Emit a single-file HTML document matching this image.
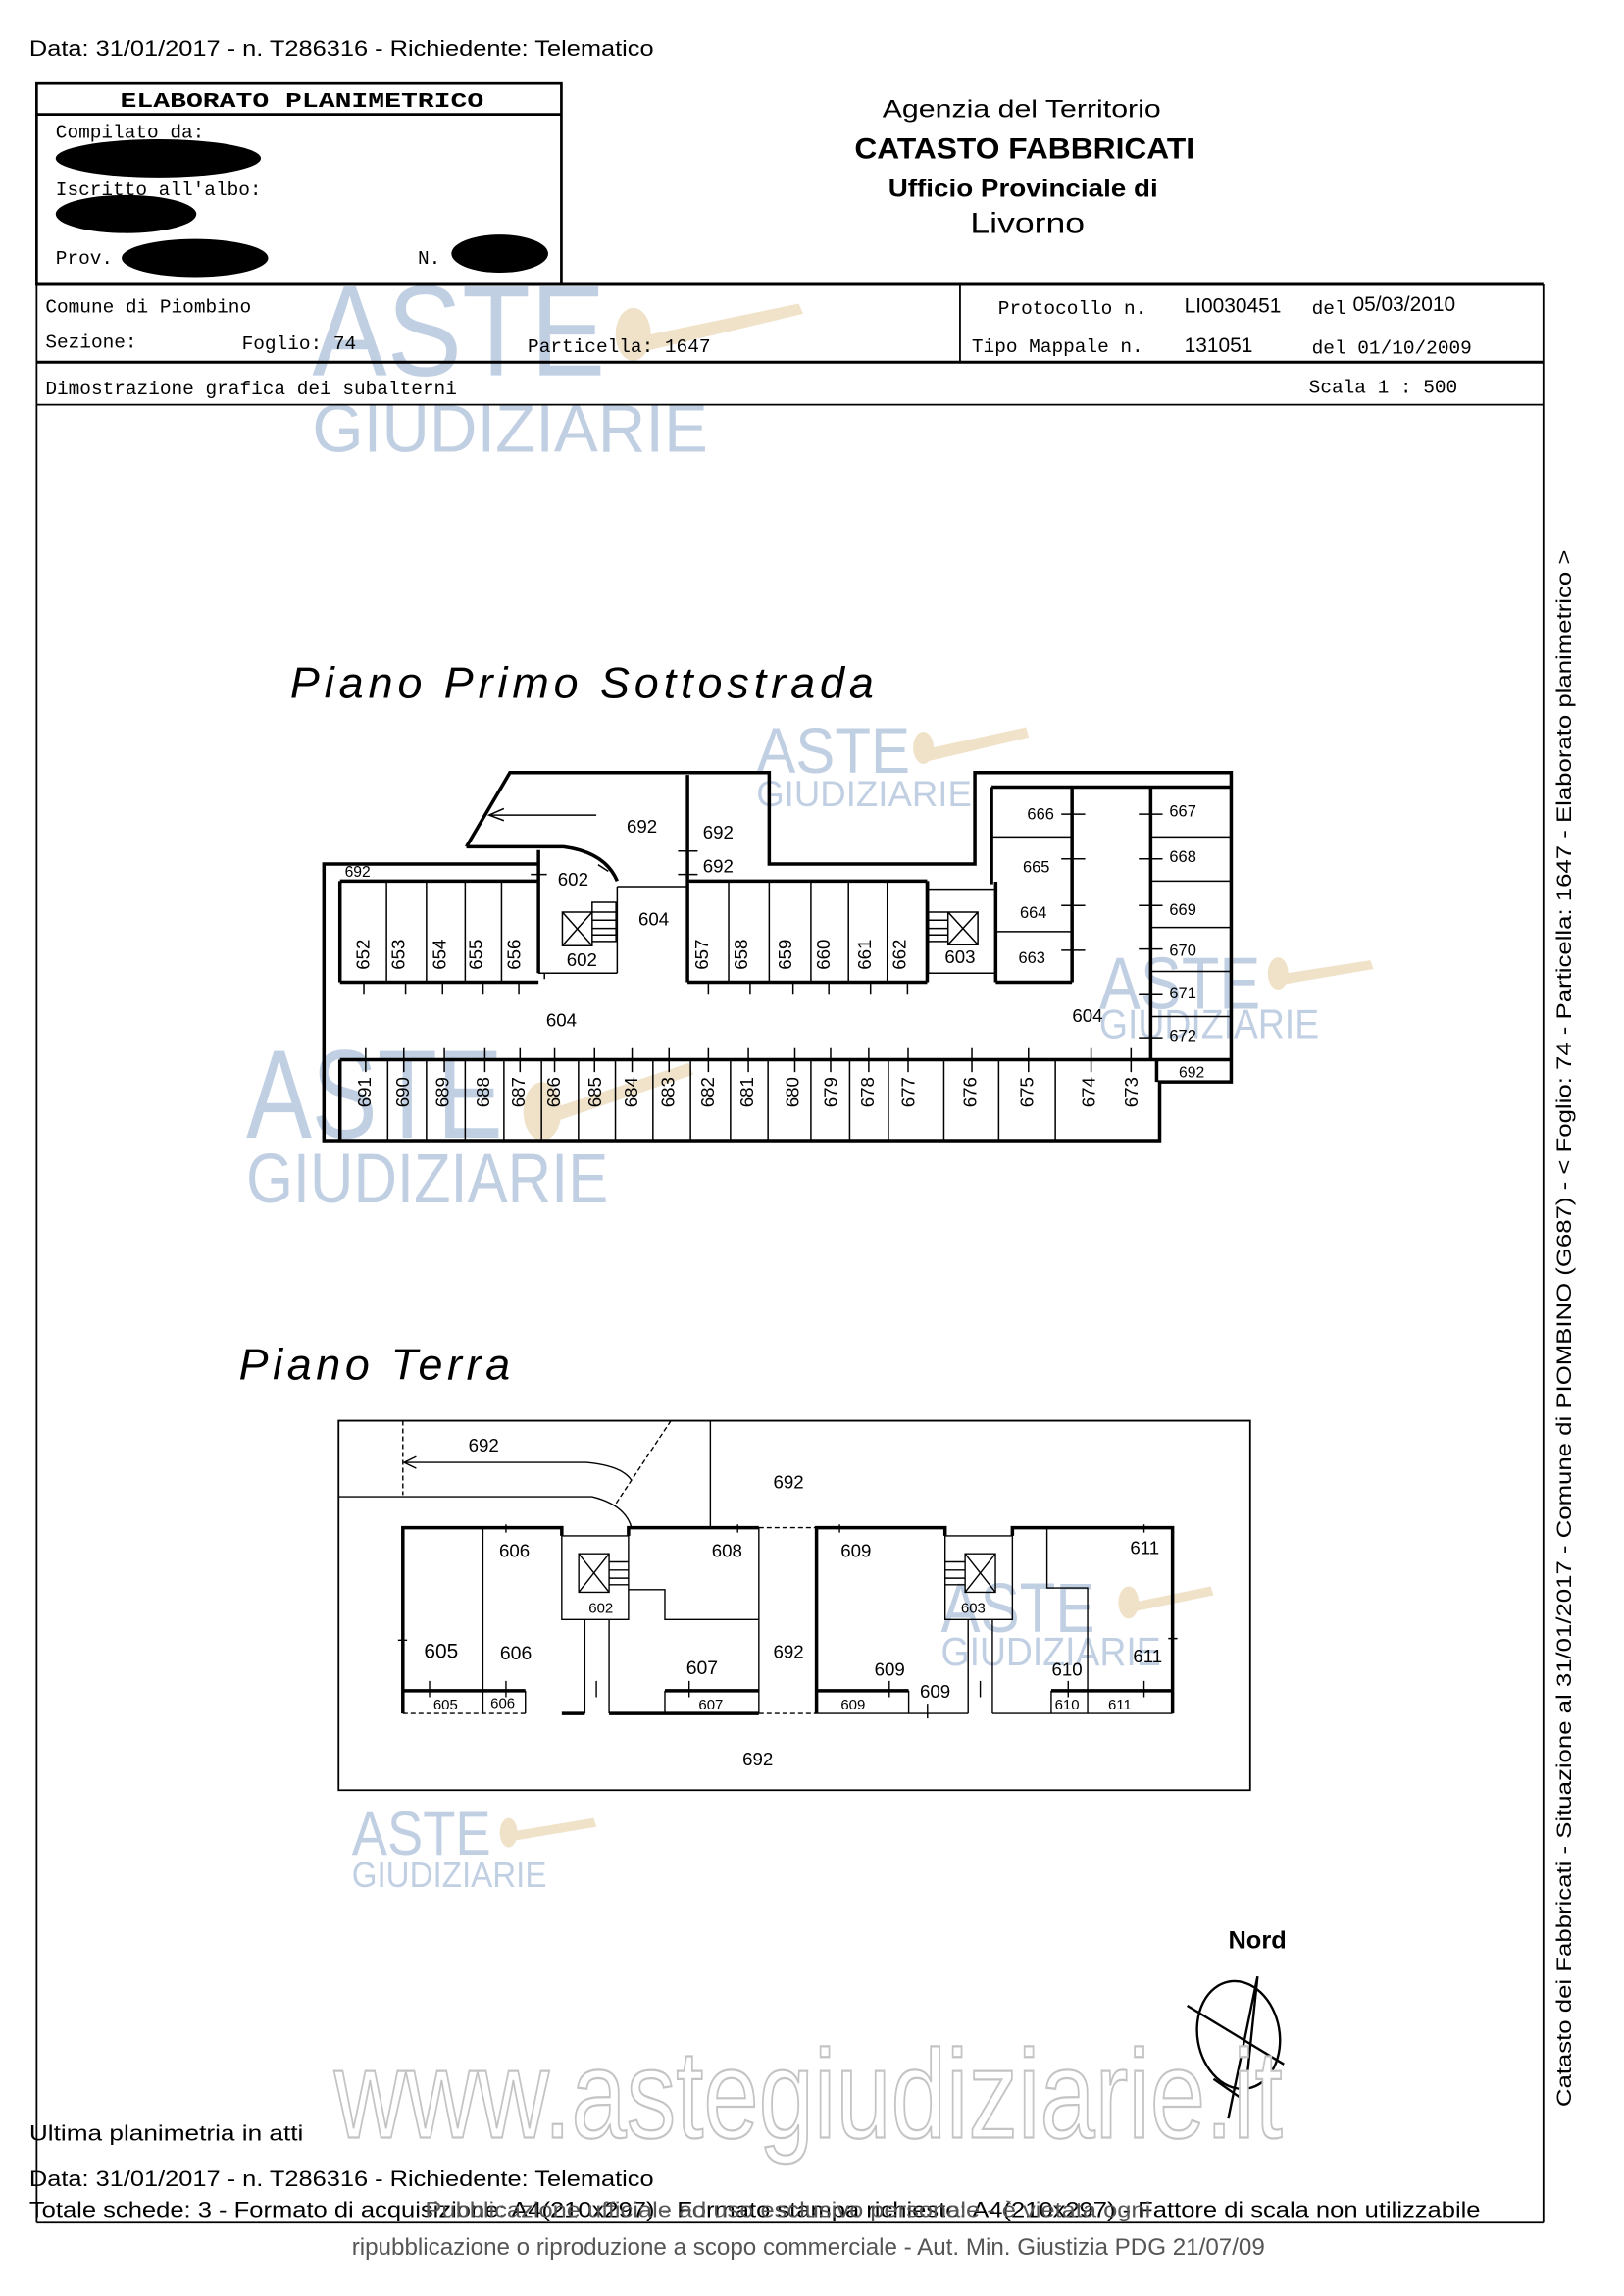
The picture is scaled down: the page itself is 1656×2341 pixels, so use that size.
<!DOCTYPE html>
<html><head><meta charset="utf-8"><style>
html,body{margin:0;padding:0;background:#fff}
svg{display:block}
.m{font-family:"Liberation Mono",monospace}
.s{font-family:"Liberation Sans",sans-serif}
.n{font-family:"Liberation Sans",sans-serif;font-size:12.5px;fill:#000}
.wm{font-family:"Liberation Sans",sans-serif;fill:#a8bcd8;opacity:.7}
</style></head><body>
<svg width="1656" height="2341" viewBox="0 0 1108 1566" preserveAspectRatio="none" xmlns="http://www.w3.org/2000/svg">
<rect width="1120" height="1570" fill="#fff"/>

<g class="wm">
<text x="213" y="256" font-size="88" textLength="200" lengthAdjust="spacingAndGlyphs">ASTE</text>
<text x="213" y="308" font-size="46" textLength="270" lengthAdjust="spacingAndGlyphs">GIUDIZIARIE</text>
<text x="516" y="527" font-size="44" textLength="105" lengthAdjust="spacingAndGlyphs">ASTE</text>
<text x="516" y="550" font-size="25" textLength="147" lengthAdjust="spacingAndGlyphs">GIUDIZIARIE</text>
<text x="168" y="776" font-size="86" textLength="175" lengthAdjust="spacingAndGlyphs">ASTE</text>
<text x="168" y="820" font-size="48" textLength="247" lengthAdjust="spacingAndGlyphs">GIUDIZIARIE</text>
<text x="750" y="688" font-size="50" textLength="110" lengthAdjust="spacingAndGlyphs">ASTE</text>
<text x="750" y="708" font-size="28" textLength="150" lengthAdjust="spacingAndGlyphs">GIUDIZIARIE</text>
<text x="642" y="1113" font-size="48" textLength="105" lengthAdjust="spacingAndGlyphs">ASTE</text>
<text x="642" y="1136" font-size="27" textLength="150" lengthAdjust="spacingAndGlyphs">GIUDIZIARIE</text>
<text x="240" y="1265" font-size="42" textLength="95" lengthAdjust="spacingAndGlyphs">ASTE</text>
<text x="240" y="1287" font-size="24" textLength="133" lengthAdjust="spacingAndGlyphs">GIUDIZIARIE</text>
</g>
<g fill="#ecd9b8" opacity=".75">
<polygon points="425,232 545,207 548,214 430,242"/><ellipse cx="432" cy="228" rx="12" ry="18"/>
<polygon points="627,512 700,496 702,503 630,520"/><ellipse cx="630" cy="510" rx="7" ry="11"/>
<polygon points="365,760 470,725 473,733 370,768"/><ellipse cx="370" cy="758" rx="13" ry="20"/>
<polygon points="870,665 935,655 937,661 872,672"/><ellipse cx="872" cy="664" rx="7" ry="11"/>
<polygon points="768,1094 826,1082 828,1088 770,1100"/><ellipse cx="770" cy="1093" rx="7" ry="11"/>
<polygon points="345,1250 405,1240 407,1246 347,1256"/><ellipse cx="347" cy="1250" rx="6" ry="10"/>
</g>

<text x="20" y="38" class="s" font-size="15" textLength="426" lengthAdjust="spacingAndGlyphs">Data: 31/01/2017 - n. T286316 - Richiedente: Telematico</text>
<g fill="none" stroke="#000">
<rect x="25" y="57" width="358" height="137" stroke-width="1.8"/>
<line x1="25" y1="78" x2="383" y2="78" stroke-width="1.8"/>
<line x1="25" y1="194" x2="1053" y2="194" stroke-width="2"/>
<line x1="25" y1="247" x2="1053" y2="247" stroke-width="2"/>
<line x1="25" y1="276" x2="1053" y2="276" stroke-width="1.2"/>
<line x1="25" y1="194" x2="25" y2="1516" stroke-width="1.2"/>
<line x1="1053" y1="194" x2="1053" y2="1516" stroke-width="1.2"/>
<line x1="655" y1="194" x2="655" y2="247" stroke-width="1.2"/>
<line x1="25" y1="1516" x2="1053" y2="1516" stroke-width="1.2"/>
</g>
<g class="m" font-size="13">
<text x="82" y="73" font-weight="bold" font-size="14" textLength="248" lengthAdjust="spacingAndGlyphs">ELABORATO PLANIMETRICO</text>
<text x="38" y="94">Compilato da:</text>
<text x="38" y="133">Iscritto all'albo:</text>
<text x="38" y="180">Prov.</text>
<text x="285" y="180">N.</text>
<text x="31" y="213">Comune di Piombino</text>
<text x="31" y="237">Sezione:</text>
<text x="165" y="238">Foglio: 74</text>
<text x="360" y="240">Particella: 1647</text>
<text x="681" y="214">Protocollo n.</text>
<text x="895" y="214">del</text>
<text x="663" y="240">Tipo Mappale n.</text>
<text x="895" y="241">del 01/10/2009</text>
<text x="31" y="269">Dimostrazione grafica dei subalterni</text>
<text x="893" y="268">Scala 1 : 500</text>
</g>
<g class="s" font-size="14">
<text x="808" y="213">LI0030451</text>
<text x="923" y="212">05/03/2010</text>
<text x="808" y="240">131051</text>
</g>
<g fill="#000">
<ellipse cx="108" cy="108" rx="70" ry="13"/>
<ellipse cx="86" cy="146" rx="48" ry="13"/>
<ellipse cx="133" cy="176" rx="50" ry="13"/>
<ellipse cx="341" cy="173" rx="33" ry="13"/>
</g>
<g class="s" text-anchor="middle">
<text x="697" y="80" font-size="17" textLength="190" lengthAdjust="spacingAndGlyphs">Agenzia del Territorio</text>
<text x="699" y="108" font-size="20" font-weight="bold" textLength="232" lengthAdjust="spacingAndGlyphs">CATASTO FABBRICATI</text>
<text x="698" y="134" font-size="17" font-weight="bold" textLength="184" lengthAdjust="spacingAndGlyphs">Ufficio Provinciale di</text>
<text x="701" y="159" font-size="20" textLength="78" lengthAdjust="spacingAndGlyphs">Livorno</text>
</g>

<text x="198" y="476" class="s" font-style="italic" font-size="30" textLength="398" lengthAdjust="spacing">Piano  Primo  Sottostrada</text>
<text x="163" y="941" class="s" font-style="italic" font-size="30" textLength="185" lengthAdjust="spacing">Piano  Terra</text>

<g transform="translate(221,527) scale(0.4067,0.2227) translate(-18,-18)" fill="none" stroke="#000">
<g stroke-width="3.5">
<path vector-effect="non-scaling-stroke" d="M257,245 L330,18 L765,18 L765,298 L1110,298 L1110,18 L1540,18 L1540,965 L1420,965 L1420,1145 L18,1145 L18,298 L378,298"/>
<path vector-effect="non-scaling-stroke" d="M257,245 L420,245 Q490,262 510,350"/>
<path vector-effect="non-scaling-stroke" d="M378,255 L378,632 M628,25 L628,660 M45,350 L378,350 M45,660 L378,660 M45,350 L45,660 M628,350 L1030,350 M628,660 L1030,660 M1030,350 L1030,660 M1138,62 L1540,62 M1138,62 L1138,360 M1273,62 L1273,660 M1145,352 L1145,660 M1145,660 L1273,660 M1405,62 L1405,897 M45,897 L1540,897 M45,897 L45,1145 M1415,897 L1415,965"/>
</g>
<g stroke-width="1.5">
<path vector-effect="non-scaling-stroke" d="M123,350V660 M190,350V660 M255,350V660 M316,350V660 M697,350V660 M765,350V660 M835,350V660 M898,350V660 M963,350V660"/>
<path vector-effect="non-scaling-stroke" d="M125,897V1145 M190,897V1145 M255,897V1145 M320,897V1145 M383,897V1145 M445,897V1145 M507,897V1145 M570,897V1145 M633,897V1145 M700,897V1145 M763,897V1145 M835,897V1145 M900,897V1145 M965,897V1145 M1058,897V1145 M1150,897V1145 M1245,897V1145"/>
<path vector-effect="non-scaling-stroke" d="M1138,215H1273 M1145,505H1273 M1405,215H1540 M1405,350H1540 M1405,492H1540 M1405,627H1540 M1405,765H1540"/>
<path vector-effect="non-scaling-stroke" d="M510,367H628 M510,367V632 M378,632H510 M1032,375H1145 M1032,632H1145 M1032,350V632 M1145,375V640"/>
<path vector-effect="non-scaling-stroke" d="M418,445H468V548H418Z M418,445L468,548 M468,445L418,548 M468,415H508V535H468Z M468,445H508 M468,470H508 M468,495H508 M468,515H508"/>
<path vector-effect="non-scaling-stroke" d="M1065,445H1115V545H1065Z M1065,445L1115,545 M1115,445L1065,545 M1032,445H1065V535H1032Z M1032,470H1065 M1032,495H1065 M1032,515H1065"/>
<path vector-effect="non-scaling-stroke" d="M85,660V695 M155,660V695 M217,660V695 M285,660V695 M345,660V695 M663,660V695 M733,660V695 M805,660V695 M865,660V695 M935,660V695 M997,660V695"/>
<path vector-effect="non-scaling-stroke" d="M88,862V935 M152,862V935 M220,862V935 M288,862V935 M347,862V935 M405,862V935 M472,862V935 M535,862V935 M597,862V935 M663,862V935 M730,862V935 M808,862V935 M868,862V935 M932,862V935 M998,862V935 M1105,862V935 M1200,862V935 M1305,862V935 M1372,862V935"/>
<path vector-effect="non-scaling-stroke" d="M1255,145H1295 M1255,282H1295 M1255,425H1295 M1255,562H1295 M1385,145H1425 M1385,282H1425 M1385,425H1425 M1385,558H1425 M1385,695H1425 M1385,830H1425 M612,258H645 M612,330H645 M365,330H392 M388,632V650"/>
<path vector-effect="non-scaling-stroke" d="M475,148H295 M320,128L295,148L320,165 M478,300L495,320"/>
</g>
</g>
<g class="n" text-anchor="middle">
<text x="438" y="568">692</text><text x="490" y="572">692</text><text x="490" y="595">692</text>
<text x="244" y="598" font-size="10.5">692</text>
<text x="391" y="604">602</text><text x="397" y="659">602</text><text x="446" y="631">604</text>
<text x="655" y="657">603</text>
<text x="383" y="700">604</text><text x="742" y="697">604</text>
<text x="710" y="559" font-size="11">666</text><text x="707" y="595" font-size="11">665</text><text x="705" y="626" font-size="11">664</text><text x="704" y="657" font-size="11">663</text>
<text x="807" y="557" font-size="11">667</text><text x="807" y="588" font-size="11">668</text><text x="807" y="624" font-size="11">669</text><text x="807" y="652" font-size="11">670</text><text x="807" y="681" font-size="11">671</text><text x="807" y="710" font-size="11">672</text>
<text x="813" y="735" font-size="10.5">692</text>
</g>
<g class="n" font-size="11" text-anchor="middle">
<text transform="translate(252,651) rotate(-90)">652</text>
<text transform="translate(276,651) rotate(-90)">653</text>
<text transform="translate(304,651) rotate(-90)">654</text>
<text transform="translate(329,651) rotate(-90)">655</text>
<text transform="translate(355,651) rotate(-90)">656</text>
<text transform="translate(483,651) rotate(-90)">657</text>
<text transform="translate(510,651) rotate(-90)">658</text>
<text transform="translate(540,651) rotate(-90)">659</text>
<text transform="translate(566,651) rotate(-90)">660</text>
<text transform="translate(594,651) rotate(-90)">661</text>
<text transform="translate(618,651) rotate(-90)">662</text>
<text transform="translate(253,745) rotate(-90)">691</text>
<text transform="translate(279,745) rotate(-90)">690</text>
<text transform="translate(306,745) rotate(-90)">689</text>
<text transform="translate(334,745) rotate(-90)">688</text>
<text transform="translate(358,745) rotate(-90)">687</text>
<text transform="translate(382,745) rotate(-90)">686</text>
<text transform="translate(410,745) rotate(-90)">685</text>
<text transform="translate(435,745) rotate(-90)">684</text>
<text transform="translate(460,745) rotate(-90)">683</text>
<text transform="translate(487,745) rotate(-90)">682</text>
<text transform="translate(514,745) rotate(-90)">681</text>
<text transform="translate(545,745) rotate(-90)">680</text>
<text transform="translate(571,745) rotate(-90)">679</text>
<text transform="translate(596,745) rotate(-90)">678</text>
<text transform="translate(624,745) rotate(-90)">677</text>
<text transform="translate(666,745) rotate(-90)">676</text>
<text transform="translate(705,745) rotate(-90)">675</text>
<text transform="translate(747,745) rotate(-90)">674</text>
<text transform="translate(776,745) rotate(-90)">673</text>
</g>

<g transform="translate(231,969) scale(0.4138,0.2224) translate(-22,-22)" fill="none" stroke="#000">
<rect x="22" y="22" width="1503" height="1133" stroke-width="1.8" vector-effect="non-scaling-stroke"/>
<g stroke-width="1.4">
<path vector-effect="non-scaling-stroke" stroke-dasharray="5,3" d="M128,22V250 M570,22L478,280 M715,350H810 M715,920H810 M128,850V920 M128,920H330"/>
<path vector-effect="non-scaling-stroke" d="M22,255H440 Q495,280 505,350 M130,150H430 Q490,160 505,205 M150,132L130,150L150,168 M635,22V350"/>
<path vector-effect="non-scaling-stroke" d="M260,350V920 M390,375H500V632H390Z M418,430H468V548H418Z M418,430L468,548 M468,430L418,548 M468,455H500 M468,480H500 M468,505H500 M468,525H500 M428,632V920 M468,632V920 M500,540H560V632H715 M715,350V920 M330,850V920"/>
<path vector-effect="non-scaling-stroke" d="M1022,375H1133V632H1022Z M1055,430H1105V548H1055Z M1055,430L1105,548 M1105,430L1055,548 M1022,455H1055 M1022,480H1055 M1022,505H1055 M1022,525H1055 M1060,632V920 M1100,632V920 M1190,350V535H1257V850 M1133,350V632 M962,850V920 M1197,850V920 M1257,850V920 M810,920H1060 M1100,920H1397 M560,850V920"/>
<path vector-effect="non-scaling-stroke" d="M298,340V365 M680,340V365 M848,340V365 M1350,340V365 M120,695H135 M1390,690H1405 M172,820V870 M298,820V870 M600,820V870 M930,820V870 M993,890V935 M1225,820V870 M1350,820V870 M447,820V870 M1080,820V870"/>
</g>
<path stroke-width="3.5" vector-effect="non-scaling-stroke" d="M128,920V350H390V375 M500,375V350H715 M810,920V350H1022V375 M1133,375V350H1397V920 M128,850H330 M390,920H428 M468,920H715 M560,850H715 M810,850H962 M1197,850H1397"/>
</g>
<g class="n" text-anchor="middle">
<text x="330" y="990">692</text><text x="538" y="1015">692</text>
<text x="351" y="1062">606</text><text x="496" y="1062">608</text><text x="584" y="1062">609</text><text x="781" y="1060">611</text>
<text x="410" y="1100" font-size="10">602</text><text x="664" y="1100" font-size="10">603</text>
<text x="301" y="1131" font-size="14">605</text><text x="352" y="1132" font-size="13">606</text><text x="479" y="1142" font-size="13">607</text>
<text x="538" y="1131">692</text><text x="607" y="1143">609</text><text x="638" y="1158">609</text><text x="728" y="1143">610</text><text x="783" y="1134">611</text>
<text x="304" y="1166" font-size="10">605</text><text x="343" y="1165" font-size="10">606</text><text x="485" y="1166" font-size="10">607</text><text x="582" y="1166" font-size="10">609</text><text x="728" y="1166" font-size="10">610</text><text x="764" y="1166" font-size="10">611</text>
<text x="517" y="1204">692</text>
</g>

<text x="838" y="1329" class="s" font-size="17" font-weight="bold">Nord</text>
<g fill="none" stroke="#000" stroke-width="1.6">
<ellipse cx="845" cy="1388" rx="28" ry="37" transform="rotate(-10 845 1388)"/>
<path d="M858,1348 L838,1445 M858,1348 L850,1425 M810,1368 L876,1408 M828,1418 L848,1432"/>
</g>

<text x="228" y="1458" class="s" font-size="86" fill="#fff" stroke="#c4c4c4" stroke-width="1.5" textLength="647" lengthAdjust="spacingAndGlyphs">www.astegiudiziarie.it</text>

<text transform="translate(1072,1437) rotate(-90)" class="s" font-size="14" textLength="1062" lengthAdjust="spacingAndGlyphs">Catasto dei Fabbricati - Situazione al 31/01/2017 - Comune di PIOMBINO (G687) - &lt; Foglio: 74 - Particella: 1647 - Elaborato planimetrico &gt;</text>

<g class="s" font-size="15">
<text x="20" y="1460" textLength="187" lengthAdjust="spacingAndGlyphs">Ultima planimetria in atti</text>
<text x="20" y="1491" textLength="426" lengthAdjust="spacingAndGlyphs">Data: 31/01/2017 - n. T286316 - Richiedente: Telematico</text>
<text x="20" y="1512" textLength="990" lengthAdjust="spacingAndGlyphs">Totale schede: 3 - Formato di acquisizione: A4(210x297) - Formato stampa richiesto: A4(210x297) - Fattore di scala non utilizzabile</text>
<text x="290" y="1512" fill="#555" textLength="495" lengthAdjust="spacingAndGlyphs">Pubblicazione ufficiale ad uso esclusivo personale - è vietata ogni</text>
<text x="240" y="1538" fill="#555" font-size="16" textLength="623" lengthAdjust="spacingAndGlyphs">ripubblicazione o riproduzione a scopo commerciale - Aut. Min. Giustizia PDG 21/07/09</text>
</g>
</svg>
</body></html>
